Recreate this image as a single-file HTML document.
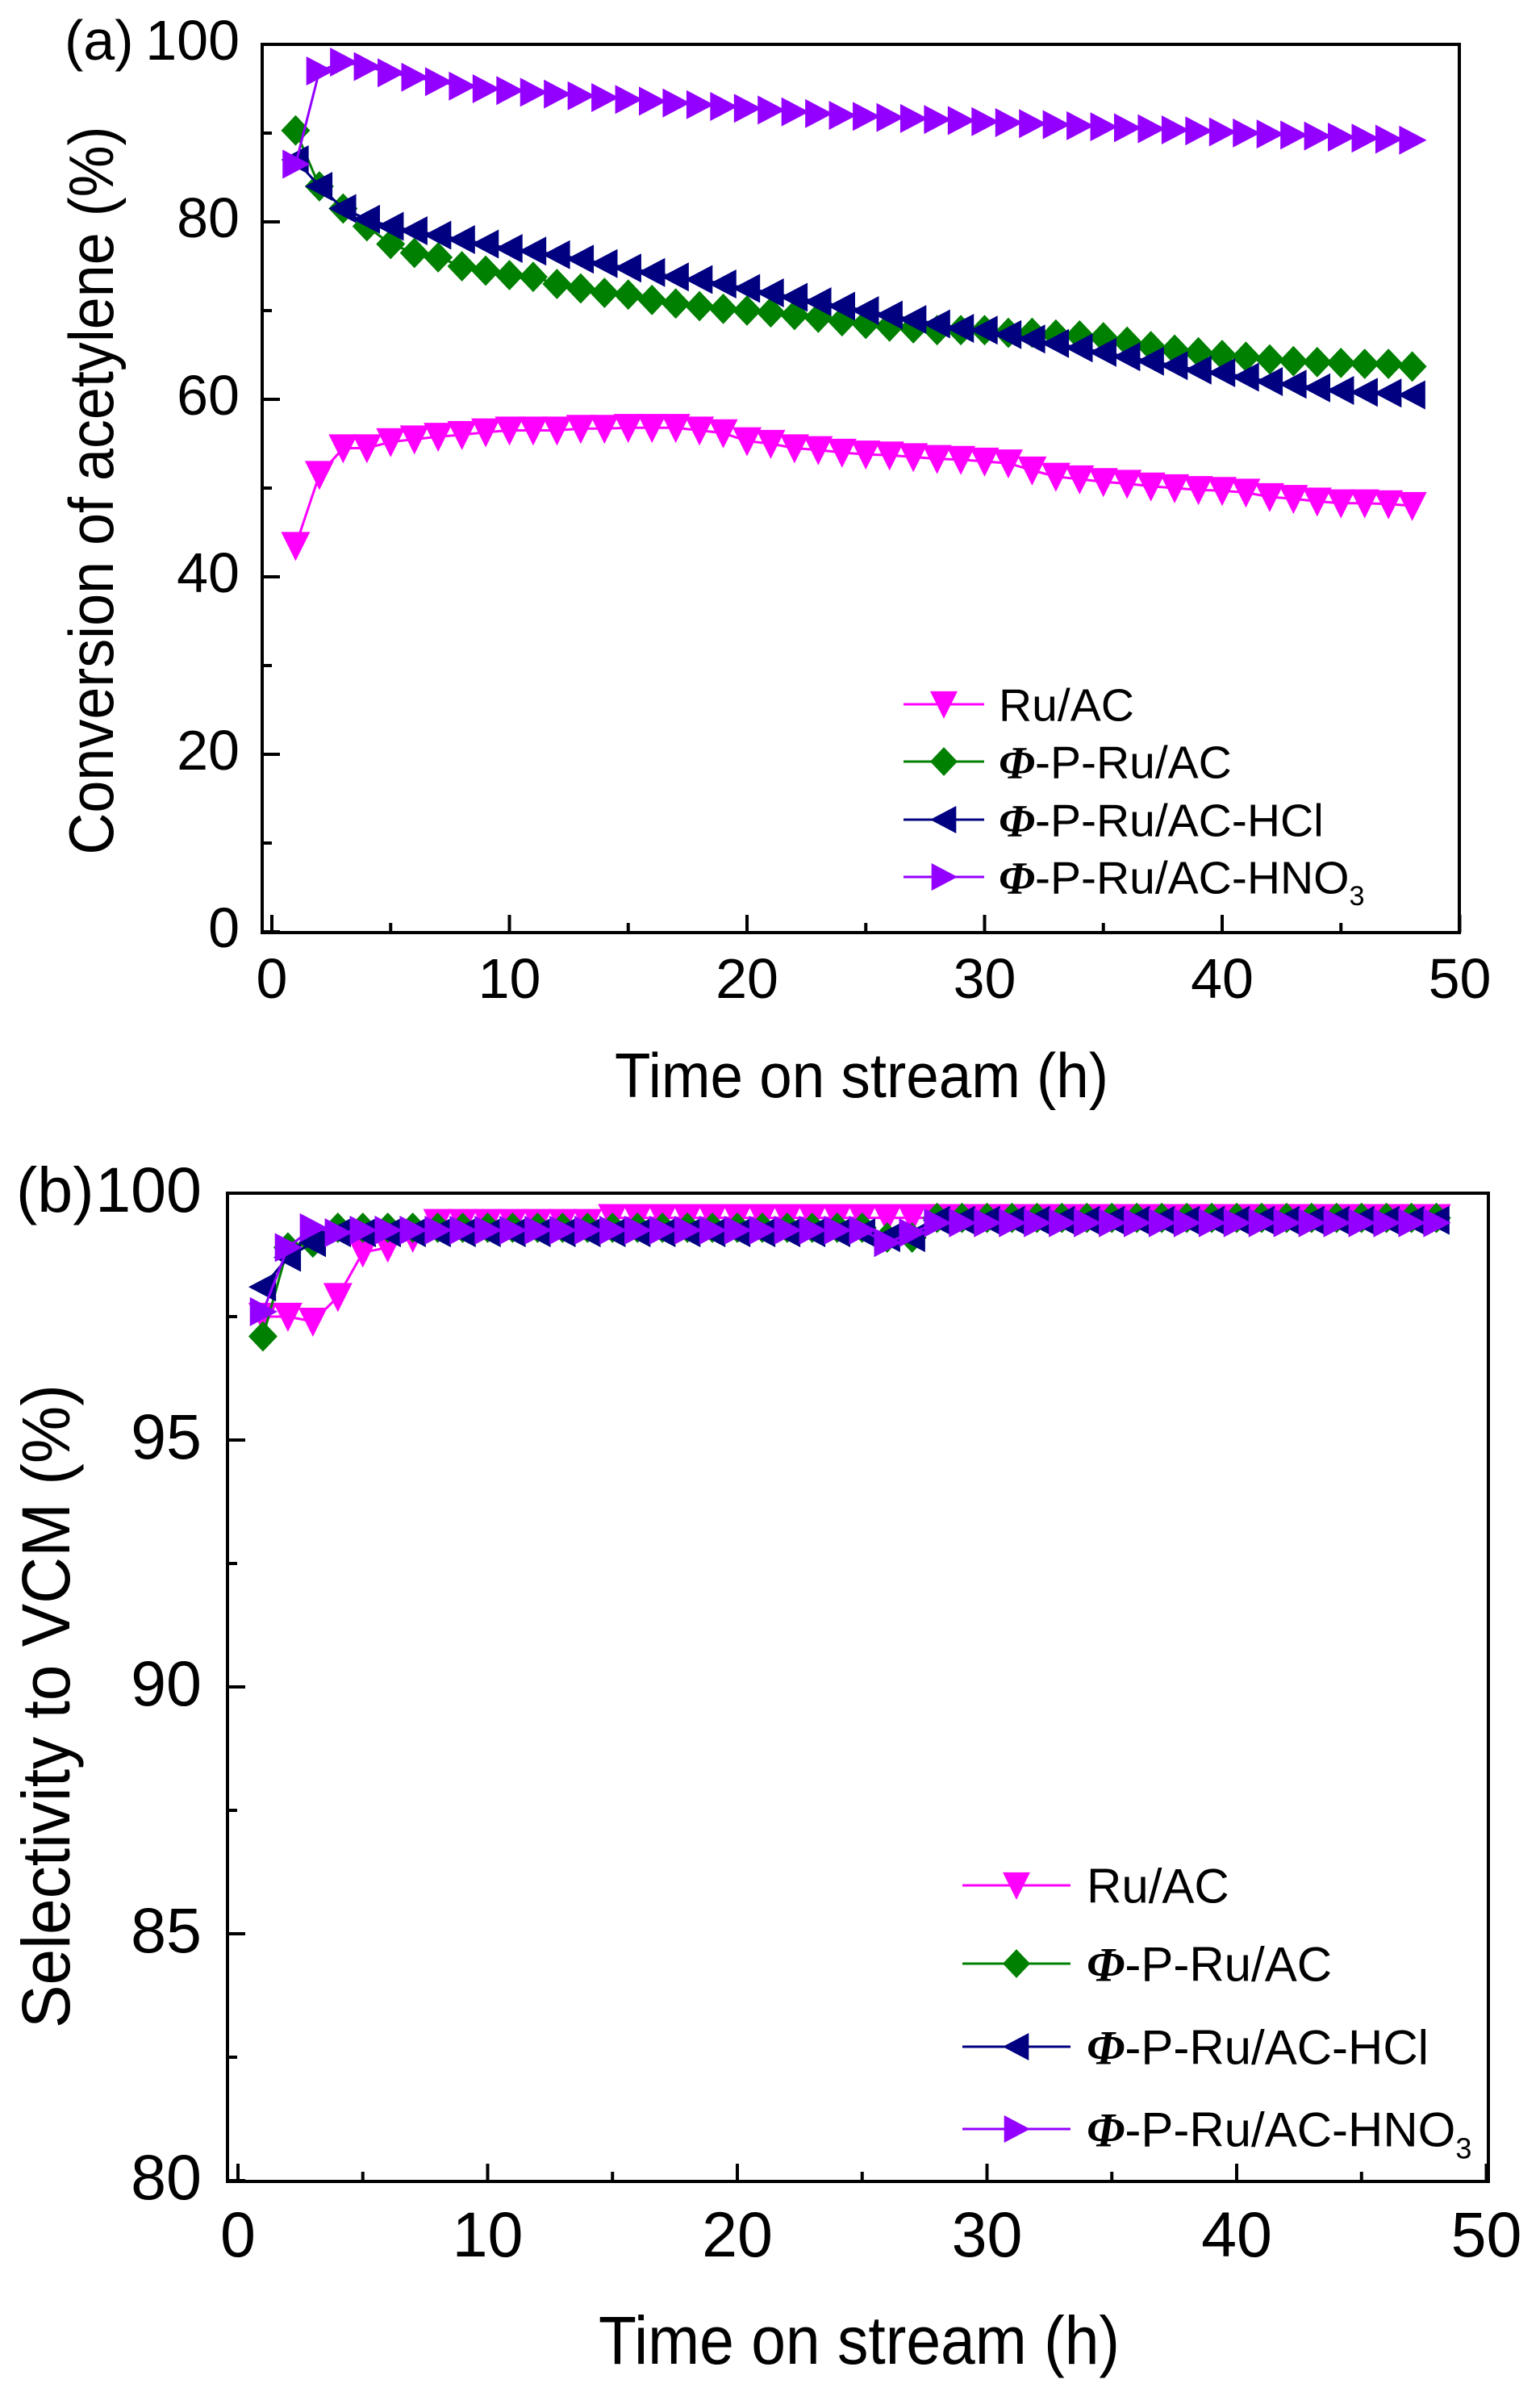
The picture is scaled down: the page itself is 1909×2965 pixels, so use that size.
<!DOCTYPE html>
<html><head><meta charset="utf-8"><style>html,body{margin:0;padding:0;background:#fff}svg{display:block}</style></head>
<body>
<svg id="s" xmlns="http://www.w3.org/2000/svg" width="1909" height="2965" viewBox="0 0 1909 2965" font-family="Liberation Sans, Arial, sans-serif">
<rect width="1909" height="2965" fill="#fff"/>
<g fill="none" stroke="#000" stroke-width="4">
<rect x="325" y="55" width="1484" height="1101"/>
<rect x="282" y="1479" width="1563" height="1225"/>
</g>
<g id="ticks" stroke="#000" stroke-width="4"></g>
<g id="series"></g>
<g font-size="70" fill="#000">
<text x="80" y="74">(a)</text>
<text x="297" y="74" text-anchor="end">100</text>
<text x="297" y="294" text-anchor="end">80</text>
<text x="297" y="514" text-anchor="end">60</text>
<text x="297" y="734" text-anchor="end">40</text>
<text x="297" y="954" text-anchor="end">20</text>
<text x="297" y="1174" text-anchor="end">0</text>
<text x="337" y="1237" text-anchor="middle">0</text>
<text x="631.5" y="1237" text-anchor="middle">10</text>
<text x="926" y="1237" text-anchor="middle">20</text>
<text x="1220.5" y="1237" text-anchor="middle">30</text>
<text x="1515" y="1237" text-anchor="middle">40</text>
<text x="1809.5" y="1237" text-anchor="middle">50</text>
</g>
<text x="762" y="1360" font-size="78" textLength="612" lengthAdjust="spacingAndGlyphs">Time on stream (h)</text>
<text transform="translate(140,608) rotate(-90)" font-size="78" text-anchor="middle" textLength="903" lengthAdjust="spacingAndGlyphs">Conversion of acetylene (%)</text>
<g font-size="79" fill="#000">
<text x="20" y="1502">(b)</text>
<text x="250" y="1502" text-anchor="end">100</text>
<text x="250" y="1808" text-anchor="end">95</text>
<text x="250" y="2114" text-anchor="end">90</text>
<text x="250" y="2420" text-anchor="end">85</text>
<text x="250" y="2726" text-anchor="end">80</text>
<text x="295" y="2797" text-anchor="middle">0</text>
<text x="604.5" y="2797" text-anchor="middle">10</text>
<text x="914" y="2797" text-anchor="middle">20</text>
<text x="1223.5" y="2797" text-anchor="middle">30</text>
<text x="1533" y="2797" text-anchor="middle">40</text>
<text x="1842.5" y="2797" text-anchor="middle">50</text>
</g>
<text x="742" y="2930" font-size="84" textLength="646" lengthAdjust="spacingAndGlyphs">Time on stream (h)</text>
<text transform="translate(86,2115) rotate(-90)" font-size="84" text-anchor="middle" textLength="798" lengthAdjust="spacingAndGlyphs">Selectivity to VCM (%)</text>
<g id="leg"></g>
</svg>
<script>
var NS="http://www.w3.org/2000/svg",S=document.getElementById('series'),T=document.getElementById('ticks'),L=document.getElementById('leg');
function el(p,t,a){var e=document.createElementNS(NS,t);for(var k in a)e.setAttribute(k,a[k]);p.appendChild(e);return e;}
for(var i=0;i<=10;i++){var x=337+i*147.25;el(T,'line',{x1:x,x2:x,y1:1156,y2:1156-(i%2?12:22)});}
for(var i=0;i<=10;i++){var y=1155-i*110;el(T,'line',{x1:325,x2:325+(i%2?12:22),y1:y,y2:y});}
for(var i=0;i<=10;i++){var x=295+i*154.75;el(T,'line',{x1:x,x2:x,y1:2704,y2:2704-(i%2?12:22)});}
for(var i=0;i<=8;i++){var y=2703-i*153;el(T,'line',{x1:282,x2:282+(i%2?12:22),y1:y,y2:y});}
function mk(p,type,cx,cy,c,r){r=r||18;var pts;
 if(type=='d')pts=[[cx-r,cy-r*0.95],[cx+r,cy-r*0.95],[cx,cy+r*1.05]];
 else if(type=='m')pts=[[cx,cy-r*1.05],[cx+r,cy],[cx,cy+r*1.05],[cx-r,cy]];
 else if(type=='l')pts=[[cx-r,cy],[cx+r*0.9,cy-r],[cx+r*0.9,cy+r]];
 else pts=[[cx+r,cy],[cx-r*0.9,cy-r],[cx-r*0.9,cy+r]];
 el(p,'polygon',{points:pts.map(function(q){return q.join(',')}).join(' '),fill:c});}
function lin(a,b,n){var r=[];for(var i=0;i<n;i++)r.push(a+(b-a)*i/(n-1));return r;}
var ruA=[43.5,51.5,54.5,54.5,55.2,55.5,55.8,56,56.3,56.5,56.5,56.5,56.7,56.7,56.8,56.8,56.8,56.5,56.2,55.3,55,54.5,54.3,54,53.8,53.7,53.5,53.3,53.2,53,52.8,52,51.3,51,50.7,50.5,50.2,50,49.8,49.7,49.5,49,48.8,48.5,48.3,48.3,48.2,48];
var grA=[90.3,84,81.5,79.5,77.5,76.5,76,75,74.5,74,73.8,73,72.5,72,71.8,71.2,70.8,70.5,70.2,70,69.8,69.5,69.2,68.8,68.5,68.2,68,67.8,67.8,67.8,67.5,67.5,67.3,67.2,67,66.5,66,65.6,65.3,65,64.8,64.5,64.3,64.2,64.1,64,64,63.7];
var nvA=[87,84,81.5,80.3,79.5,79,78.5,78,77.5,77,76.7,76.3,75.8,75.3,74.8,74.3,73.8,73.5,73,72.5,72,71.5,71,70.5,70,69.5,69,68.5,68,67.8,67.3,66.8,66.3,65.8,65.3,64.8,64.3,63.8,63.3,63,62.5,62,61.7,61.3,61,60.8,60.7,60.5];
var puA=[86.5,97,98,97.5,96.8,96.3,95.8,95.3,95,94.8,94.6,94.4,94.2,94,93.8,93.6,93.4,93.2,93,92.8,92.6,92.4,92.2].concat(lin(92.0,89.2,25));
var ruB=[97.5,97.5,97.4,97.9,98.8,98.9,99.1];for(var i=8;i<=48;i++)ruB.push(i<15?99.4:99.5);
var grB=[97.1,98.9,99.0,99.3];for(var i=5;i<=48;i++)grB.push(i<26?99.3:(i<28?99.1:99.5));
var nvB=[98.1,98.7,99.0,99.2];for(var i=5;i<=48;i++)nvB.push(i<26?99.2:(i<28?99.1:99.45));
var puB=[97.6,98.9,99.3,99.2];for(var i=5;i<=48;i++)puB.push(i==26?99.0:(i==27?99.2:(i<26?99.25:99.4)));
var C={d:'#ff00ff',m:'#008000',l:'#000080',r:'#9400ff'};
function draw(data,type,X,Y){var c=C[type],pts=data.map(function(v,i){return [X(i+1),Y(v)];});
 el(S,'polyline',{points:pts.map(function(q){return q.join(',')}).join(' '),fill:'none',stroke:c,'stroke-width':3});
 pts.forEach(function(q){mk(S,type,q[0],q[1],c);});}
var XA=function(x){return 337+29.45*x},YA=function(v){return 1155-11*v};
var XB=function(x){return 295+30.95*x},YB=function(v){return 2703-61.2*(v-80)};
draw(ruA,'d',XA,YA);draw(grA,'m',XA,YA);draw(nvA,'l',XA,YA);draw(puA,'r',XA,YA);
draw(ruB,'d',XB,YB);draw(grB,'m',XB,YB);draw(nvB,'l',XB,YB);draw(puB,'r',XB,YB);
var names=[['Ru/AC',''],['-P-Ru/AC',''],['-P-Ru/AC-HCl',''],['-P-Ru/AC-HNO','3']],types=['d','m','l','r'];
function legend(x1,x2,mx,tx,ys,fs){for(var i=0;i<4;i++){var c=C[types[i]],y=ys[i];
 el(L,'line',{x1:x1,x2:x2,y1:y,y2:y,stroke:c,'stroke-width':3});mk(L,types[i],mx,y,c,17);
 var t=el(L,'text',{x:tx,y:y+fs*0.36,'font-size':fs});
 if(i>0){var p=el(t,'tspan',{'font-family':'Liberation Serif, serif','font-style':'italic','font-weight':'bold'});p.textContent='\u03A6';}
 var a=el(t,'tspan',{});a.textContent=names[i][0];
 if(names[i][1]){var b=el(t,'tspan',{'font-size':fs*0.6,dy:fs*0.25});b.textContent=names[i][1];}}}
legend(1120,1220,1170,1238,[873,944,1016,1087],57);
legend(1193,1327,1260,1347,[2337,2434,2537,2639],60);
</script>
</body></html>
